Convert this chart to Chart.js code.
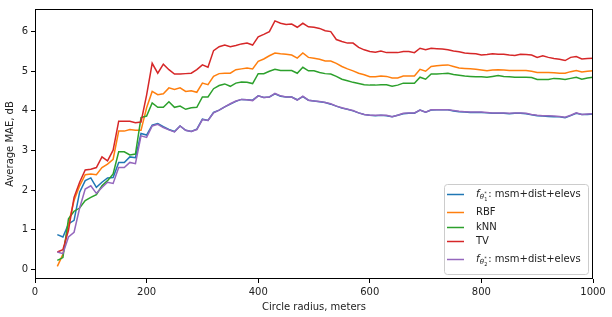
<!DOCTYPE html>
<html><head><meta charset="utf-8">
<script src="https://cdn.jsdelivr.net/npm/chart.js@4"></script>
<style>html,body{margin:0;padding:0;background:#fff;}#wrap{width:612px;height:317px;position:relative;}</style>
</head><body><div id="wrap"><canvas id="c" width="612" height="317"></canvas></div>
<script>
// Circle radius, meters
const radius = [
  40,50,60,70,80,90,100,110,120,130,
  140,150,160,170,180,190,200,210,220,230,
  240,250,260,270,280,290,300,310,320,330,
  340,350,360,370,380,390,400,410,420,430,
  440,450,460,470,480,490,500,510,520,530,
  540,550,560,570,580,590,600,610,620,630,
  640,650,660,670,680,690,700,710,720,730,
  740,750,760,770,780,790,800,810,820,830,
  840,850,860,870,880,890,900,910,920,930,
  940,950,960,970,980,990,1000];

const fTheta1 = [
  0.88,0.82,1.15,1.24,1.95,2.24,2.31,2.07,2.20,2.31,
  2.32,2.70,2.70,2.84,2.82,3.43,3.39,3.64,3.68,3.60,
  3.53,3.48,3.62,3.51,3.48,3.54,3.79,3.76,3.96,4.02,
  4.10,4.17,4.24,4.29,4.28,4.27,4.38,4.34,4.35,4.43,
  4.37,4.35,4.35,4.28,4.36,4.27,4.25,4.23,4.21,4.17,
  4.12,4.07,4.04,4.00,3.95,3.91,3.89,3.88,3.89,3.88,
  3.85,3.89,3.93,3.94,3.94,4.02,3.97,4.02,4.03,4.03,
  4.03,4.00,3.98,3.97,3.96,3.96,3.96,3.95,3.94,3.94,
  3.94,3.93,3.94,3.94,3.93,3.90,3.88,3.87,3.86,3.85,
  3.85,3.83,3.88,3.94,3.91,3.91,3.92];

const rbf = [
  0.08,0.38,1.15,1.74,2.11,2.39,2.41,2.39,2.57,2.66,
  2.78,3.49,3.49,3.53,3.51,3.51,4.08,4.49,4.41,4.43,
  4.58,4.54,4.58,4.49,4.51,4.47,4.70,4.66,4.87,4.94,
  4.95,4.95,5.04,5.06,5.08,5.06,5.25,5.31,5.39,5.46,
  5.44,5.43,5.41,5.33,5.46,5.35,5.33,5.30,5.26,5.26,
  5.20,5.12,5.06,5.01,4.95,4.91,4.86,4.86,4.88,4.87,
  4.83,4.83,4.88,4.88,4.88,5.05,5.00,5.12,5.14,5.15,
  5.16,5.12,5.08,5.07,5.06,5.05,5.03,5.01,5.03,5.04,
  5.03,5.02,5.02,5.02,5.02,5.00,4.97,4.97,4.97,4.96,
  4.95,4.95,4.99,5.02,4.98,5.00,5.01];

const knn = [
  0.23,0.30,1.28,1.47,1.55,1.74,1.82,1.89,2.11,2.24,
  2.41,2.97,2.97,2.89,2.91,3.83,3.87,4.20,4.09,4.09,
  4.23,4.09,4.12,4.04,4.08,4.09,4.35,4.35,4.56,4.64,
  4.68,4.62,4.70,4.73,4.72,4.69,4.94,4.94,5.00,5.05,
  5.02,5.02,5.02,4.95,5.10,5.01,5.01,4.97,4.94,4.93,
  4.87,4.80,4.76,4.72,4.69,4.66,4.65,4.65,4.66,4.66,
  4.62,4.65,4.70,4.70,4.70,4.85,4.80,4.93,4.93,4.94,
  4.95,4.92,4.90,4.88,4.87,4.86,4.86,4.85,4.87,4.89,
  4.87,4.86,4.85,4.85,4.85,4.84,4.79,4.79,4.79,4.82,
  4.81,4.79,4.82,4.85,4.80,4.83,4.85];

const tv = [
  0.44,0.50,0.99,1.82,2.20,2.51,2.53,2.57,2.84,2.74,
  3.01,3.74,3.74,3.74,3.70,3.72,4.40,5.20,4.95,5.18,
  5.04,4.93,4.93,4.94,4.95,5.04,5.16,5.10,5.52,5.62,
  5.66,5.62,5.65,5.69,5.71,5.66,5.87,5.93,6.00,6.27,
  6.21,6.18,6.19,6.11,6.21,6.12,6.11,6.08,6.02,6.00,
  5.80,5.75,5.71,5.71,5.60,5.54,5.50,5.48,5.51,5.47,
  5.47,5.47,5.50,5.50,5.47,5.58,5.54,5.58,5.57,5.56,
  5.54,5.51,5.49,5.46,5.45,5.44,5.41,5.42,5.44,5.43,
  5.43,5.41,5.40,5.43,5.42,5.41,5.35,5.39,5.35,5.32,
  5.30,5.27,5.35,5.37,5.31,5.32,5.33];

const fTheta2 = [
  0.44,0.40,0.82,0.94,1.55,2.03,2.11,1.92,2.07,2.20,
  2.17,2.57,2.57,2.70,2.67,3.37,3.33,3.62,3.66,3.58,
  3.52,3.47,3.62,3.51,3.48,3.53,3.78,3.76,3.95,4.02,
  4.10,4.18,4.25,4.29,4.28,4.26,4.38,4.34,4.35,4.44,
  4.38,4.35,4.35,4.27,4.37,4.27,4.25,4.24,4.21,4.18,
  4.12,4.08,4.04,4.01,3.95,3.91,3.89,3.89,3.89,3.89,
  3.85,3.89,3.94,3.95,3.95,4.02,3.97,4.03,4.03,4.03,
  4.03,4.01,3.99,3.98,3.97,3.97,3.97,3.96,3.95,3.95,
  3.95,3.94,3.95,3.95,3.94,3.91,3.89,3.88,3.88,3.87,
  3.86,3.84,3.89,3.95,3.91,3.92,3.93];

const seriesNames = ['fθ1*: msm+dist+elevs','RBF','kNN','TV','fθ2*: msm+dist+elevs'];
const seriesValues = [fTheta1, rbf, knn, tv, fTheta2];
const seriesColors = ['#1f77b4','#ff7f0e','#2ca02c','#d62728','#9467bd'];
const yTicks = [0,1,2,3,4,5,6];
const xTicks = [0,200,400,600,800,1000];

const FONT = '"DejaVu Sans", sans-serif';

const datasets = seriesValues.map((vals, i) => ({
  label: seriesNames[i],
  data: radius.map((r, k) => ({x: r, y: vals[k]})),
  borderColor: seriesColors[i],
  backgroundColor: seriesColors[i],
  borderWidth: 1.5,
  pointRadius: 0,
  tension: 0,
  fill: false,
  order: seriesValues.length - 1 - i
}));

const framePlugin = {
  id: 'frame',
  afterDatasetsDraw(chart) {
    const {ctx, chartArea: a} = chart;
    ctx.save();
    ctx.strokeStyle = '#000';
    ctx.lineWidth = 1;
    ctx.strokeRect(Math.round(a.left) + 0.5, Math.round(a.top) + 0.5,
                   Math.round(a.right - a.left) - 1, Math.round(a.bottom - a.top) - 1);
    ctx.restore();
  }
};

function drawMathLabel(ctx, x, y, sub) {
  ctx.font = 'italic 10px ' + FONT;
  ctx.fillText('f', x, y);
  x += ctx.measureText('f').width + 0.3;
  ctx.font = 'italic 7px ' + FONT;
  ctx.fillText('θ', x, y + 3);
  x += ctx.measureText('θ').width + 0.2;
  ctx.font = '5px ' + FONT;
  ctx.fillText(sub, x, y + 5.5);
  ctx.fillText('*', x, y - 0.5);
  x += ctx.measureText(sub).width + 0.8;
  ctx.font = '10px ' + FONT;
  ctx.fillText(': msm+dist+elevs', x, y);
}

const legendPlugin = {
  id: 'mplLegend',
  afterDraw(chart) {
    const ctx = chart.ctx;
    const bx = 444.5, by = 184.5, bw = 144, bh = 90, r = 3;
    ctx.save();
    ctx.beginPath();
    ctx.moveTo(bx + r, by);
    ctx.lineTo(bx + bw - r, by);
    ctx.quadraticCurveTo(bx + bw, by, bx + bw, by + r);
    ctx.lineTo(bx + bw, by + bh - r);
    ctx.quadraticCurveTo(bx + bw, by + bh, bx + bw - r, by + bh);
    ctx.lineTo(bx + r, by + bh);
    ctx.quadraticCurveTo(bx, by + bh, bx, by + bh - r);
    ctx.lineTo(bx, by + r);
    ctx.quadraticCurveTo(bx, by, bx + r, by);
    ctx.closePath();
    ctx.fillStyle = 'rgba(255,255,255,0.8)';
    ctx.fill();
    ctx.strokeStyle = '#cccccc';
    ctx.lineWidth = 1;
    ctx.stroke();
    const rows = [194.5, 212.5, 227.5, 241.5, 259.5];
    chart.data.datasets.forEach((ds, i) => {
      const y = rows[i];
      ctx.strokeStyle = ds.borderColor;
      ctx.lineWidth = 1.5;
      ctx.beginPath();
      ctx.moveTo(447, y);
      ctx.lineTo(464, y);
      ctx.stroke();
      ctx.fillStyle = '#222';
      ctx.textBaseline = 'middle';
      ctx.textAlign = 'left';
      if (i === 0) drawMathLabel(ctx, 476, y, '1');
      else if (i === 4) drawMathLabel(ctx, 476, y, '2');
      else { ctx.font = '10px ' + FONT; ctx.fillText(ds.label, 476, y); }
    });
    ctx.restore();
  }
};

new Chart(document.getElementById('c'), {
  type: 'line',
  data: { datasets },
  options: {
    responsive: false,
    animation: false,
    devicePixelRatio: 1,
    layout: { padding: { left: 0, top: 7, right: 19, bottom: 0 } },
    plugins: { legend: { display: false }, tooltip: { enabled: false } },
    scales: {
      x: {
        type: 'linear',
        min: 0, max: 1000,
        afterBuildTicks: s => { s.ticks = xTicks.map(v => ({value: v})); },
        afterFit: s => { s.height = 38; },
        grid: { drawOnChartArea: false, drawTicks: true, tickLength: 4, tickColor: '#000', tickWidth: 1 },
        border: { display: false },
        ticks: { color: '#222', font: { family: FONT, size: 10 }, padding: 3, maxRotation: 0, callback: v => String(v) },
        title: { display: true, text: 'Circle radius, meters', color: '#222', font: { family: FONT, size: 10 }, padding: { top: 2, bottom: 4 } }
      },
      y: {
        type: 'linear',
        min: -0.24, max: 6.57,
        afterBuildTicks: s => { s.ticks = yTicks.map(v => ({value: v})); },
        afterFit: s => { s.width = 35; },
        grid: { drawOnChartArea: false, drawTicks: true, tickLength: 4, tickColor: '#000', tickWidth: 1 },
        border: { display: false },
        ticks: { color: '#222', font: { family: FONT, size: 10 }, padding: 3, callback: v => String(v) },
        title: { display: true, text: 'Average MAE, dB', color: '#222', font: { family: FONT, size: 10 }, padding: { top: 4, bottom: 2 } }
      }
    }
  },
  plugins: [framePlugin, legendPlugin]
});
</script>
</body></html>
